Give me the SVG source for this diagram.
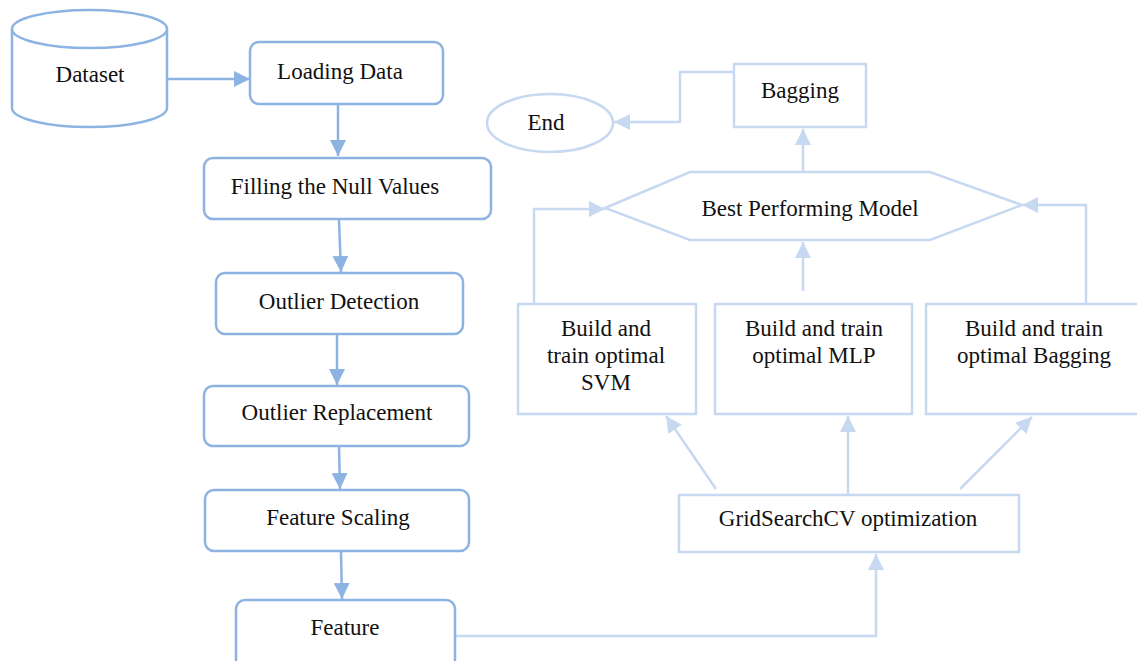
<svg xmlns="http://www.w3.org/2000/svg" width="1137" height="661" viewBox="0 0 1137 661">
<defs>
<style>
.dk{fill:#fff;stroke:#8db3e2;stroke-width:2.5}
.lt{fill:#fff;stroke:#c6d9f1;stroke-width:2.5}
.cd{fill:none;stroke:#8db3e2;stroke-width:2.5}
.cl{fill:none;stroke:#c6d9f1;stroke-width:2.5}
text{font-family:"Liberation Serif","Times New Roman",serif;font-size:23px;fill:#111;text-anchor:middle;dominant-baseline:middle}
</style>
<marker id="ad" viewBox="0 0 10 10" refX="10" refY="5" markerWidth="16" markerHeight="16" orient="auto" markerUnits="userSpaceOnUse">
<path d="M0,0 L10,5 L0,10 z" fill="#8db3e2"/>
</marker>
<marker id="al" viewBox="0 0 10 10" refX="10" refY="5" markerWidth="6.5" markerHeight="6.5" orient="auto" markerUnits="strokeWidth">
<path d="M0,0 L10,5 L0,10 z" fill="#c6d9f1"/>
</marker>
</defs>
<rect width="1137" height="661" fill="#fff"/>
<g id="connectors">
<path class="cd" d="M168,79 H250" marker-end="url(#ad)"/>
<path class="cd" d="M338,105 V156" marker-end="url(#ad)"/>
<path class="cd" d="M339,220 L341,272" marker-end="url(#ad)"/>
<path class="cd" d="M337,335 V385" marker-end="url(#ad)"/>
<path class="cd" d="M339,447 L340,489" marker-end="url(#ad)"/>
<path class="cd" d="M341,552 L342,599" marker-end="url(#ad)"/>
<path class="cl" d="M456,636 H876 V554" marker-end="url(#al)"/>
<path class="cl" d="M716,489 L666,416" marker-end="url(#al)"/>
<path class="cl" d="M848,494 V416" marker-end="url(#al)"/>
<path class="cl" d="M960,489 L1032,417" marker-end="url(#al)"/>
<path class="cl" d="M534,304 V209 H605" marker-end="url(#al)"/>
<path class="cl" d="M803,291 V242" marker-end="url(#al)"/>
<path class="cl" d="M1086,304 V205 H1022" marker-end="url(#al)"/>
<path class="cl" d="M803,172 V129" marker-end="url(#al)"/>
<path class="cl" d="M734,72 H680 V122 H614" marker-end="url(#al)"/>
</g>
<g id="dataset">
<path class="dk" d="M12,29 V108 A77.5,19 0 0 0 167,108 V29"/>
<ellipse class="dk" cx="89.5" cy="29" rx="77.5" ry="19"/>
<text x="90" y="77">Dataset</text>
</g>
<g id="loading"><rect class="dk" x="250" y="42" width="193" height="62" rx="9"/><text x="340" y="74">Loading Data</text></g>
<g id="filling"><rect class="dk" x="204" y="158" width="287" height="61" rx="9"/><text x="335" y="189">Filling the Null Values</text></g>
<g id="outlier-detection"><rect class="dk" x="216" y="273" width="247" height="61" rx="9"/><text x="339" y="304">Outlier Detection</text></g>
<g id="outlier-replacement"><rect class="dk" x="204" y="386" width="265" height="60" rx="9"/><text x="337" y="415">Outlier Replacement</text></g>
<g id="feature-scaling"><rect class="dk" x="205" y="490" width="264" height="61" rx="9"/><text x="338" y="520">Feature Scaling</text></g>
<g id="feature"><rect class="dk" x="236" y="600" width="219" height="70" rx="9"/><text x="345" y="630">Feature</text></g>
<g id="gridsearch"><rect class="lt" x="679" y="495" width="340" height="57"/><text x="848" y="521">GridSearchCV optimization</text></g>
<g id="svm"><rect class="lt" x="518" y="304" width="178" height="110"/><text x="606" y="331">Build and</text><text x="606" y="358">train optimal</text><text x="606" y="385">SVM</text></g>
<g id="mlp"><rect class="lt" x="715" y="304" width="197" height="110"/><text x="814" y="331">Build and train</text><text x="814" y="358">optimal MLP</text></g>
<g id="bagging-build"><rect class="lt" x="926" y="304" width="215" height="110"/><text x="1034" y="331">Build and train</text><text x="1034" y="358">optimal Bagging</text></g>
<g id="best"><polygon class="lt" points="605,208 690,172 930,172 1022,205 930,240 690,240"/><text x="810" y="211">Best Performing Model</text></g>
<g id="bagging"><rect class="lt" x="734" y="64" width="132" height="63"/><text x="800" y="93">Bagging</text></g>
<g id="end"><ellipse class="lt" cx="550" cy="123" rx="63" ry="29"/><text x="546" y="125">End</text></g>
</svg>
